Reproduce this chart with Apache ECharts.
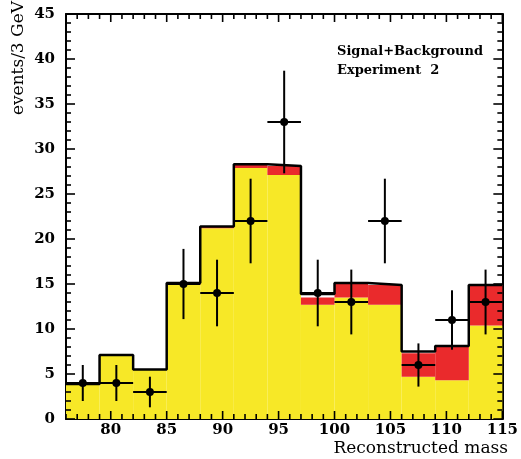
<!DOCTYPE html>
<html>
<head>
<meta charset="utf-8">
<script src="https://cdn.jsdelivr.net/npm/echarts@6/dist/echarts.min.js"></script>
<style>html,body{margin:0;padding:0;background:#fff}#c{width:521px;height:459px}</style>
</head>
<body>
<div id="c"></div>
<script>
// ---- data ----
const binEdges = [76, 79, 82, 85, 88, 91, 94, 97, 100, 103, 106, 109, 112, 115];
const background = [3.9, 7.1, 5.5, 14.9, 21.2, 27.9, 27.1, 12.7, 13.5, 12.7, 4.7, 4.3, 10.4];
const signal = [0, 0, 0, 0.15, 0.2, 0.4, 1.0, 0.8, 1.6, 2.2, 2.6, 3.7, 4.5];
const total = [3.9, 7.1, 5.5, 15.1, 21.4, 28.3, 28.1, 13.9, 15.1, 14.9, 7.5, 8.1, 14.9];
const dataX = [77.5, 80.5, 83.5, 86.5, 89.5, 92.5, 95.5, 98.5, 101.5, 104.5, 107.5, 110.5, 113.5];
const dataCounts = [4, 4, 3, 15, 14, 22, 33, 14, 13, 22, 6, 11, 13];
const dataErrors = [2.0, 2.0, 1.7, 3.9, 3.7, 4.7, 5.7, 3.7, 3.6, 4.7, 2.4, 3.3, 3.6];
const xTickLabels = [80, 85, 90, 95, 100, 105, 110, 115];
const yTickLabels = [0, 5, 10, 15, 20, 25, 30, 35, 40, 45];
const yAxisTitle = 'events/3 GeV';
const xAxisTitle = 'Reconstructed mass';
const legendLines = ['Signal+Background', 'Experiment  2'];

// ---- chart ----
const FONT = 'DejaVu Serif';
const X_MIN = 76, X_MAX = 115, Y_MIN = 0, Y_MAX = 45;
const chart = echarts.init(document.getElementById('c'), null, {renderer: 'canvas'});

const bgData = background.map((v, i) => [binEdges[i], binEdges[i + 1], 0, v]);
const sigData = signal.map((v, i) => [binEdges[i], binEdges[i + 1], background[i], background[i] + v]);
const outline = total.map((v, i) => [binEdges[i], v]);
outline.push([binEdges[binEdges.length - 1], total[total.length - 1]]);
const points = dataX.map((x, i) => [x, dataCounts[i], dataErrors[i], (binEdges[i + 1] - binEdges[i]) / 2]);

// tick marks as scatter symbols pointing into the frame on all four sides
const TW = 1.6;
const tickItems = [];
for (let v = X_MIN; v <= X_MAX; v++) {
  const len = xTickLabels.indexOf(v) >= 0 ? 8 : 5;
  tickItems.push({value: [v, Y_MIN], symbolSize: [TW, len], symbolOffset: [0, -len / 2]});
  tickItems.push({value: [v, Y_MAX], symbolSize: [TW, len], symbolOffset: [0, len / 2]});
}
for (let v = Y_MIN; v <= Y_MAX; v++) {
  const len = yTickLabels.indexOf(v) >= 0 ? 9 : 5;
  tickItems.push({value: [X_MIN, v], symbolSize: [len, TW], symbolOffset: [len / 2, 0]});
  tickItems.push({value: [X_MAX, v], symbolSize: [len, TW], symbolOffset: [-len / 2, 0]});
}

function rectItem(color) {
  return function (params, api) {
    const p0 = api.coord([api.value(0), api.value(2)]);
    const p1 = api.coord([api.value(1), api.value(3)]);
    return {
      type: 'rect',
      shape: {x: p0[0], y: p1[1], width: p1[0] - p0[0], height: p0[1] - p1[1]},
      style: {fill: color, stroke: null}
    };
  };
}

const axLine = {show: true, onZero: false, lineStyle: {color: '#000', width: 2}};

const option = {
  animation: false,
  grid: {left: 66, right: 12, top: 14, bottom: 40, containLabel: false},
  xAxis: [
    {type: 'value', position: 'bottom', min: X_MIN, max: X_MAX, axisLine: axLine,
     axisTick: {show: false},
     axisLabel: {show: true, customValues: xTickLabels, margin: 4, color: '#000',
       fontFamily: FONT, fontWeight: 'bold', fontSize: 15},
     splitLine: {show: false}},
    {type: 'value', position: 'top', min: X_MIN, max: X_MAX, axisLine: axLine,
     axisTick: {show: false}, axisLabel: {show: false}, splitLine: {show: false}}
  ],
  yAxis: [
    {type: 'value', position: 'left', min: Y_MIN, max: Y_MAX, interval: 5, axisLine: axLine,
     axisTick: {show: false},
     axisLabel: {show: true, margin: 11, color: '#000', fontFamily: FONT, fontWeight: 'bold', fontSize: 15},
     splitLine: {show: false}},
    {type: 'value', position: 'right', min: Y_MIN, max: Y_MAX, interval: 5, axisLine: axLine,
     axisTick: {show: false}, axisLabel: {show: false}, splitLine: {show: false}}
  ],
  graphic: [
    {type: 'text', x: 19, y: 1, rotation: Math.PI / 2,
     style: {text: yAxisTitle, fill: '#000', font: '17px "' + FONT + '"', align: 'right', verticalAlign: 'middle'}},
    {type: 'text', x: 508, y: 449,
     style: {text: xAxisTitle, fill: '#000', font: '17px "' + FONT + '"', align: 'right', verticalAlign: 'middle'}},
    {type: 'text', x: 337, y: 52,
     style: {text: legendLines[0], fill: '#000', font: 'bold 13px "' + FONT + '"', align: 'left', verticalAlign: 'middle'}},
    {type: 'text', x: 337, y: 71,
     style: {text: legendLines[1], fill: '#000', font: 'bold 13px "' + FONT + '"', align: 'left', verticalAlign: 'middle'}}
  ],
  series: [
    {type: 'custom', name: 'Background', xAxisIndex: 0, yAxisIndex: 0, data: bgData,
     encode: {x: [0, 1], y: [2, 3]}, renderItem: rectItem('#f7e827'), z: 1},
    {type: 'custom', name: 'Signal', xAxisIndex: 0, yAxisIndex: 0, data: sigData,
     encode: {x: [0, 1], y: [2, 3]}, renderItem: rectItem('#ea2a2c'), z: 2},
    {type: 'line', name: 'Total', xAxisIndex: 0, yAxisIndex: 0, data: outline, step: 'end',
     showSymbol: false, symbol: 'none', lineStyle: {color: '#000', width: 2.5}, z: 3},
    {type: 'custom', name: 'Data', xAxisIndex: 0, yAxisIndex: 0, data: points,
     encode: {x: 0, y: 1}, z: 4,
     renderItem: function (params, api) {
       const x = api.value(0), y = api.value(1), e = api.value(2), hw = api.value(3);
       const c = api.coord([x, y]);
       const top = api.coord([x, y + e]);
       const bot = api.coord([x, Math.max(0, y - e)]);
       const l = api.coord([x - hw, y]);
       const r = api.coord([x + hw, y]);
       return {type: 'group', children: [
         {type: 'line', shape: {x1: c[0], y1: top[1], x2: c[0], y2: bot[1]}, style: {stroke: '#000', lineWidth: 2}},
         {type: 'line', shape: {x1: l[0], y1: c[1], x2: r[0], y2: c[1]}, style: {stroke: '#000', lineWidth: 2}},
         {type: 'circle', shape: {cx: c[0], cy: c[1], r: 4}, style: {fill: '#000'}}
       ]};
     }},
    {type: 'scatter', name: 'Ticks', xAxisIndex: 0, yAxisIndex: 0, data: tickItems, clip: false,
     symbol: 'rect', silent: true, z: 6, itemStyle: {color: '#000', opacity: 1}}
  ]
};
chart.setOption(option);
</script>
</body>
</html>
